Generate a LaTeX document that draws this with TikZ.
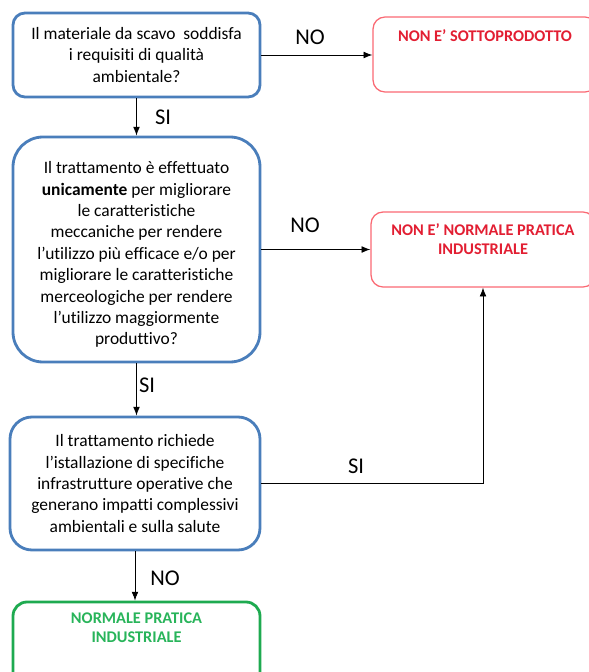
\documentclass[tikz,border=0pt]{standalone}
\usepackage{fontspec}
\setmainfont{Carlito}[Ligatures=NoCommon]
\usepackage{tikz}
\usetikzlibrary{positioning, arrows.meta}

\definecolor{qblue}{RGB}{74,126,187}
\definecolor{nored}{RGB}{250,105,115}
\definecolor{notext}{RGB}{226,30,50}
\definecolor{okgreen}{RGB}{30,170,80}
\definecolor{oktext}{RGB}{40,180,90}

\begin{document}
\begin{tikzpicture}[
    question/.style={rectangle, rounded corners=0.3cm, draw=qblue, line width=2pt,
                     align=center, font=\fontsize{12.4}{15.2}\selectfont},
    result/.style={rectangle, rounded corners=0.3cm, draw=nored, line width=0.9pt,
                   minimum width=5.6cm, minimum height=1.875cm},
    final/.style={rectangle, rounded corners=0.35cm, draw=okgreen, line width=2pt,
                  minimum width=6.175cm, minimum height=2.45cm},
    restext/.style={align=center, font=\fontsize{11.6}{13.6}\selectfont\bfseries},
    answer/.style={font=\fontsize{16}{19}\selectfont},
    arrow/.style={-{Latex[length=2.2mm, width=1.7mm]}, line width=0.6pt}
]
    \useasboundingbox (0,0) rectangle (14.725,-16.8);
    \clip (0,0) rectangle (14.725,-16.8);

    % Questions
    \node[question, minimum width=6.175cm, minimum height=2.1cm] (q1) at (3.4125,-1.375)
        {Il materiale da scavo\ \ soddisfa\\ i requisiti di qualità\\ ambientale?};
    \node[question, rounded corners=0.75cm, minimum width=6.175cm, minimum height=5.625cm] (q2) at (3.4125,-6.2375)
        {\rule{0pt}{16pt}Il trattamento è effettuato\\ \textbf{unicamente} per migliorare\\ le caratteristiche\\
         meccaniche per rendere\\ l’utilizzo più efficace e/o per\\ migliorare le caratteristiche\\
         merceologiche per rendere\\ l’utilizzo maggiormente\\ produttivo?};
    \node[question, rounded corners=0.55cm, minimum width=6.25cm, minimum height=3.325cm] (q3) at (3.375,-12.0875)
        {Il trattamento richiede\\ l’istallazione di specifiche\\ infrastrutture operative che\\
         generano impatti complessivi\\ ambientali e sulla salute};

    % Outcomes
    \node[result] (r1) at (12.125,-1.3625) {};
    \node[restext, text=notext, below=0.2cm of r1.north] (r1txt) {NON E’ SOTTOPRODOTTO};
    \node[result] (r2) at (12.075,-6.2375) {};
    \node[restext, text=notext, below=0.18cm of r2.north] (r2txt) {NON E’ NORMALE PRATICA\\ INDUSTRIALE};
    \node[final] (ok) at (3.4125,-16.275) {};
    \node[restext, text=oktext, below=0.18cm of ok.north] (oktxt) {NORMALE PRATICA\\ INDUSTRIALE};

    % Connectors
    \draw[arrow] (q1.east) -- (q1.east -| r1.west);
    \draw[arrow] (q1.south) -- (q2.north);
    \draw[arrow] (q2.east) -- (q2.east -| r2.west);
    \draw[arrow] (q2.south) -- (q2.south |- q3.north);
    \draw[arrow] (q3.east) -| (r2.south);
    \draw[arrow] (q3.south) -- (q3.south |- ok.north);

    % Answers
    \node[answer] (no1) at (7.75,-0.92) {NO};
    \node[answer] (si1) at (4.075,-2.925) {SI};
    \node[answer] (no2) at (7.625,-5.625) {NO};
    \node[answer] (si2) at (3.675,-9.625) {SI};
    \node[answer] (si3) at (8.9,-11.65) {SI};
    \node[answer] (no3) at (4.125,-14.45) {NO};

\end{tikzpicture}
\end{document}
